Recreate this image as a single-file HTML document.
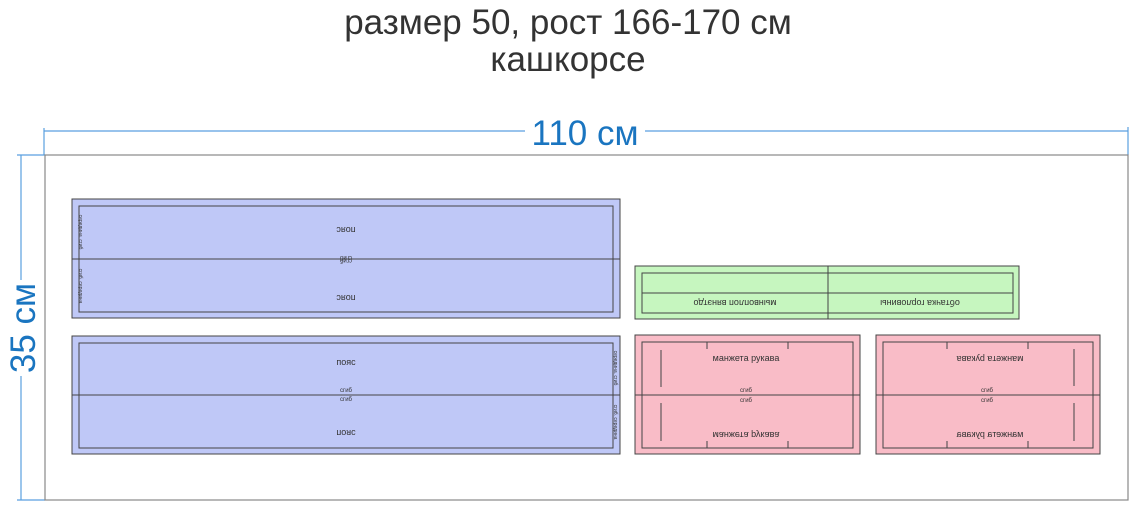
<!DOCTYPE html>
<html><head><meta charset="utf-8"><style>
html,body{margin:0;padding:0;background:#fff;}
svg{display:block;}
text{font-family:"Liberation Sans",sans-serif;}
</style></head><body>
<svg width="1136" height="508" viewBox="0 0 1136 508" xmlns="http://www.w3.org/2000/svg">
<text x="568" y="34" font-size="35" fill="#333" text-anchor="middle">размер 50, рост 166-170 см</text>
<text x="568" y="71" font-size="35" fill="#333" text-anchor="middle">кашкорсе</text>
<!-- dims -->
<g stroke="#5a9fe0" stroke-width="1.2" fill="none">
<line x1="44" y1="131" x2="525" y2="131"/><line x1="645" y1="131" x2="1128" y2="131"/>
<line x1="44" y1="128" x2="44" y2="155"/><line x1="1128" y1="127" x2="1128" y2="155"/>
<line x1="21" y1="155" x2="21" y2="280"/><line x1="21" y1="376" x2="21" y2="500"/>
<line x1="17" y1="155" x2="45" y2="155"/><line x1="17" y1="500" x2="45" y2="500"/>
</g>
<text x="585" y="145" font-size="35" fill="#1a75c0" text-anchor="middle">110 см</text>
<text transform="translate(35,328) rotate(-90)" font-size="35" fill="#1a75c0" text-anchor="middle">35 см</text>
<rect x="45" y="155" width="1083" height="345" fill="none" stroke="#888" stroke-width="1.2"/>
<g stroke="#444" stroke-width="1">
<rect x="72" y="199" width="548" height="119" fill="#bfc8f7"/>
<rect x="79" y="206" width="534" height="106" fill="none"/>
<line x1="72" y1="259" x2="620" y2="259"/>
<rect x="72" y="336" width="548" height="118" fill="#bfc8f7"/>
<rect x="79" y="343" width="534" height="105" fill="none"/>
<line x1="72" y1="395" x2="620" y2="395"/>
<rect x="635" y="266" width="384" height="53" fill="#c6f6bf"/>
<rect x="642" y="273" width="371" height="40" fill="none"/>
<line x1="642" y1="293" x2="1013" y2="293"/>
<line x1="828" y1="266" x2="828" y2="319"/>
<rect x="635" y="335" width="225" height="119" fill="#f9bcc7"/>
<rect x="642" y="342" width="211" height="106" fill="none"/>
<line x1="635" y1="395" x2="860" y2="395"/>
<line x1="707" y1="342" x2="707" y2="349"/><line x1="788" y1="342" x2="788" y2="349"/>
<line x1="707" y1="441" x2="707" y2="448"/><line x1="788" y1="441" x2="788" y2="448"/>
<line x1="661" y1="350" x2="661" y2="387"/><line x1="661" y1="403" x2="661" y2="441"/>
<rect x="876" y="335" width="224" height="119" fill="#f9bcc7"/>
<rect x="883" y="342" width="210" height="106" fill="none"/>
<line x1="876" y1="395" x2="1100" y2="395"/>
<line x1="947" y1="342" x2="947" y2="349"/><line x1="1028" y1="342" x2="1028" y2="349"/>
<line x1="947" y1="441" x2="947" y2="448"/><line x1="1028" y1="441" x2="1028" y2="448"/>
<line x1="1074" y1="349" x2="1074" y2="386"/><line x1="1074" y1="403" x2="1074" y2="441"/>
</g>
<g font-size="9" fill="#333" text-anchor="middle">
<text transform="translate(346,227) rotate(180)">пояс</text>
<text transform="translate(346,295) rotate(180)">пояс</text>
<text transform="translate(346,256) rotate(180)" font-size="6">сгиб</text>
<text x="346" y="265" font-size="6" transform="translate(692,524) scale(-1,-1)">сгиб</text>
<text x="346" y="365">пояс</text>
<text x="346" y="430" transform="translate(0,860) scale(1,-1)">пояс</text>
<text x="346" y="392" font-size="6">сгиб</text>
<text x="346" y="401" font-size="6">сгиб</text>
<text transform="translate(79,232) rotate(90)" font-size="5">середина. сгиб</text>
<text transform="translate(79,286) rotate(90)" font-size="5">сгиб. середина</text>
<text transform="translate(614,368) rotate(90)" font-size="5">середина. сгиб</text>
<text transform="translate(614,422) rotate(90)" font-size="5">сгиб. середина</text>
<text transform="translate(735,300) rotate(180)">мынвоплоп вянэтдо</text>
<text transform="translate(920,300) rotate(180)">обтачка горловины</text>
<text x="746" y="361">манжета рукава</text>
<text transform="translate(746,432) scale(1,-1)">манжета рукава</text>
<text x="746" y="392" font-size="6">сгиб</text>
<text x="746" y="402" font-size="6">сгиб</text>
<text transform="translate(990,356) rotate(180)">манжета рукава</text>
<text transform="translate(990,437) scale(-1,1)">манжета рукава</text>
<text x="987" y="392" font-size="6">сгиб</text>
<text x="987" y="402" font-size="6">сгиб</text>
</g>
</svg>
</body></html>
